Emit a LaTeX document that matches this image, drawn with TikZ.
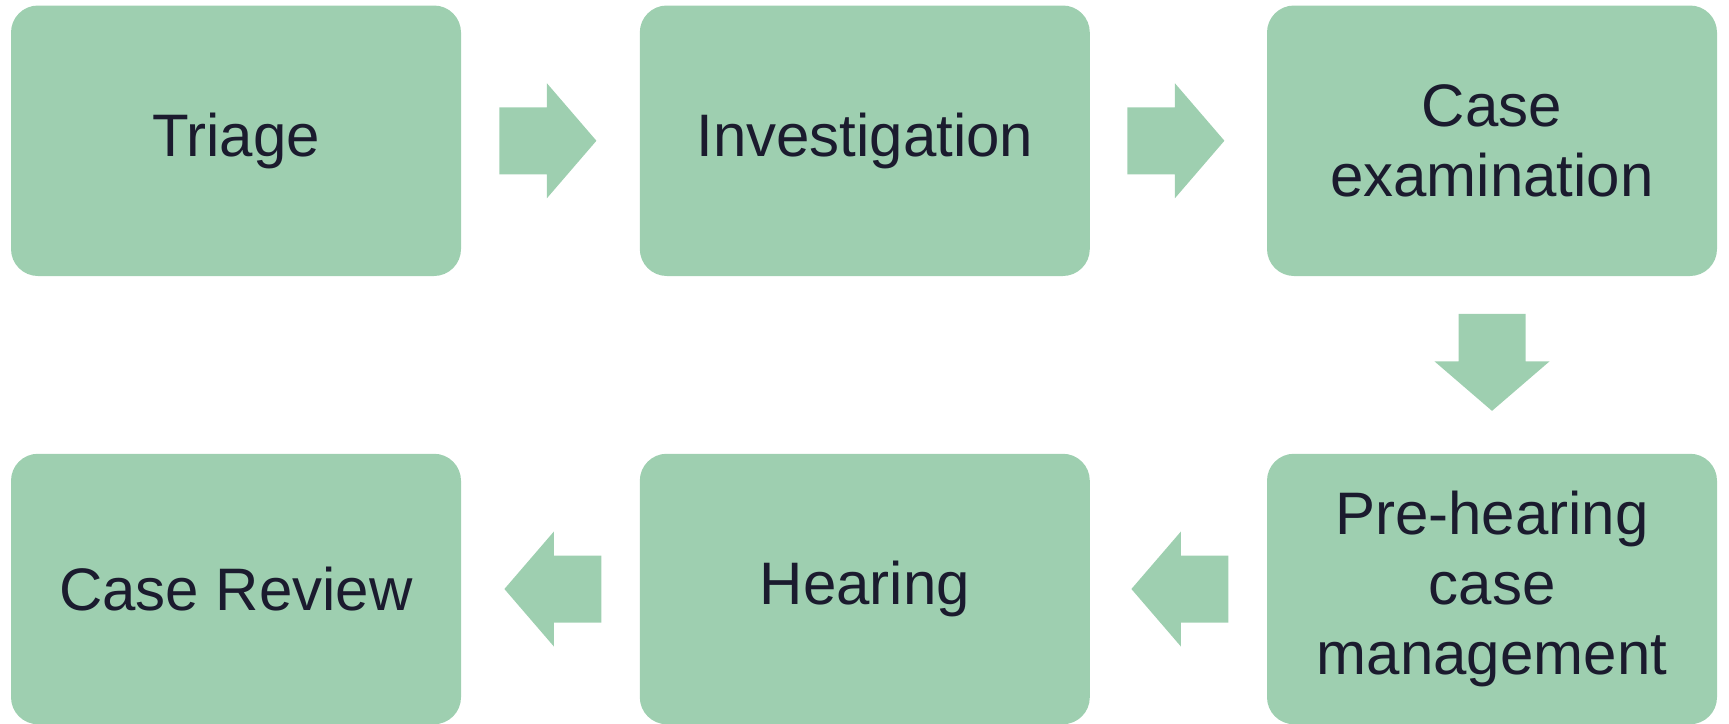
\documentclass[tikz,border=0pt]{standalone}
\usepackage{fontspec}
\setmainfont{Liberation Sans}
\usetikzlibrary{calc}
\definecolor{boxgreen}{HTML}{9ECFB0}
\definecolor{txtdark}{HTML}{1B1B2E}
\tikzset{
  stagebox/.style={fill=boxgreen, draw=none, rounded corners=27pt,
    minimum width=450pt, minimum height=270.5pt, inner sep=0pt,
    align=center, text=txtdark, font=\fontsize{60}{70}\selectfont},
  blockarrow/.style={fill=boxgreen, draw=none}
}
\newcommand\blockarr[2]{%
  \fill[blockarrow, shift={(#1)}, rotate=#2]
    (-48.5,-33.5) -- (-1,-33.5) -- (-1,-57.5) -- (48.5,0) -- (-1,57.5)
    -- (-1,33.5) -- (-48.5,33.5) -- cycle;}
\begin{document}
\begin{tikzpicture}[x=1pt,y=1pt]
\useasboundingbox (0,0) rectangle (1729,-723);
\node[stagebox] (triage) at (236,-140.75) {Triage};
\node[stagebox] (invest) at (864.8,-140.75) {Investigation};
\node[stagebox] (exam) at (1492,-140.75) {Case\\examination};
\node[stagebox] (prehear) at (1492,-589) {Pre-hearing\\case\\management};
\node[stagebox] (hearing) at (864.8,-589) {Hearing};
\node[stagebox] (review) at (236,-589) {Case Review};
\coordinate (a1) at ($(triage.east)!0.5!(invest.west)+(-2.5,0)$);
\coordinate (a2) at ($(invest.east)!0.5!(exam.west)+(-2.5,0)$);
\coordinate (a3) at ($(exam.south)!0.5!(prehear.north)+(0,2.5)$);
\coordinate (a4) at ($(prehear.west)!0.5!(hearing.east)+(1.5,0)$);
\coordinate (a5) at ($(hearing.west)!0.5!(review.east)+(2.5,0)$);
\blockarr{a1}{0}
\blockarr{a2}{0}
\blockarr{a3}{-90}
\blockarr{a4}{180}
\blockarr{a5}{180}
\end{tikzpicture}
\end{document}
